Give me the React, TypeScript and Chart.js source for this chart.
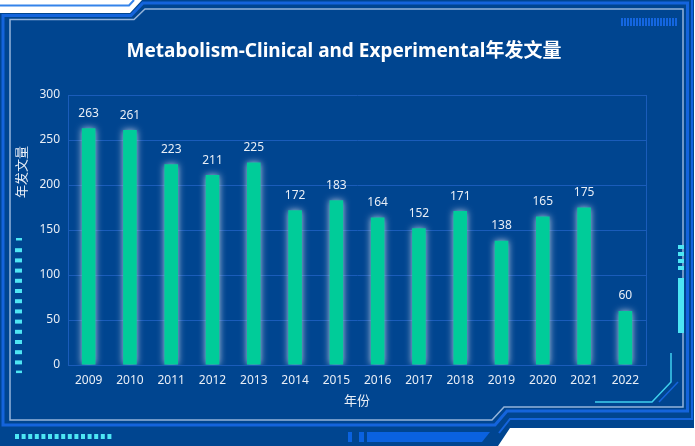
import React, { useEffect, useRef } from 'react';
import { Chart, registerables } from 'chart.js';

Chart.register(...registerables);

const years = ['2009', '2010', '2011', '2012', '2013', '2014', '2015', '2016', '2017', '2018', '2019', '2020', '2021', '2022'];
const counts = [263, 261, 223, 211, 225, 172, 183, 164, 152, 171, 138, 165, 175, 60];
const yMin = 0;
const yMax = 300;
const yStep = 50;
const titleText = 'Metabolism-Clinical and Experimental年发文量';
const xName = '年份';
const yName = '年发文量';

const FONT = '"Microsoft YaHei", "Noto Sans", "Noto Sans CJK SC", sans-serif';
const BG = '#004590';
const BRIGHT = '#1464dc';
const GRAYLINE = '#94b4da';
const CYAN = '#4de6f4';
const GRID = '#1a5cba';
const TEXT = '#e8eef6';
const BAR = '#00cc99';

const framePlugin = {
  id: 'frame',
  beforeDraw(chart: any) {
    const ctx = chart.ctx as CanvasRenderingContext2D;
    const W = chart.width;
    const H = chart.height;
    ctx.save();
    ctx.fillStyle = '#ffffff';
    ctx.fillRect(0, 0, W, H);
    ctx.fillStyle = BG;
    ctx.beginPath();
    ctx.moveTo(0, 13);
    ctx.lineTo(130, 13);
    ctx.lineTo(142, 0);
    ctx.lineTo(694, 0);
    ctx.lineTo(694, 428);
    ctx.lineTo(510, 428);
    ctx.lineTo(498, 446);
    ctx.lineTo(0, 446);
    ctx.closePath();
    ctx.fill();
    ctx.strokeStyle = '#3583ea';
    ctx.lineWidth = 2;
    ctx.beginPath();
    ctx.moveTo(0, 5.5);
    ctx.lineTo(129, 5.5);
    ctx.lineTo(134, 0);
    ctx.stroke();
    ctx.strokeStyle = BRIGHT;
    ctx.lineWidth = 3;
    ctx.beginPath();
    ctx.moveTo(3, 425);
    ctx.lineTo(3, 15.5);
    ctx.lineTo(131, 15.5);
    ctx.lineTo(143, 3);
    ctx.lineTo(687.5, 3);
    ctx.lineTo(687.5, 411);
    ctx.lineTo(507, 411);
    ctx.lineTo(495, 425);
    ctx.closePath();
    ctx.stroke();
    ctx.lineWidth = 2;
    ctx.beginPath();
    ctx.moveTo(692, 0);
    ctx.lineTo(692, 419);
    ctx.lineTo(510, 419);
    ctx.lineTo(499, 433);
    ctx.stroke();
    ctx.strokeStyle = GRAYLINE;
    ctx.lineWidth = 1.5;
    ctx.beginPath();
    ctx.moveTo(10, 420);
    ctx.lineTo(10, 19.5);
    ctx.lineTo(134, 19.5);
    ctx.lineTo(145, 9);
    ctx.lineTo(683, 9);
    ctx.lineTo(683, 407);
    ctx.lineTo(504, 407);
    ctx.lineTo(492, 420);
    ctx.closePath();
    ctx.stroke();
    ctx.fillStyle = '#0a62e0';
    ctx.fillRect(348, 432, 4, 10);
    ctx.fillRect(359, 432, 5, 10);
    ctx.beginPath();
    ctx.moveTo(367, 432);
    ctx.lineTo(490, 432);
    ctx.lineTo(482, 442);
    ctx.lineTo(367, 442);
    ctx.closePath();
    ctx.fill();
    ctx.fillStyle = '#1466e0';
    for (let x = 621; x < 677; x += 3) ctx.fillRect(x, 18, 2, 8);
    ctx.fillStyle = CYAN;
    for (let i = 0; i < 14; i++) {
      const y = 238 + i * 10.2;
      const short = i === 0 || i === 13;
      ctx.fillRect(short ? 16 : 15, y, short ? 6 : 7, short ? 2.5 : 4);
    }
    for (let i = 0; i < 15; i++) {
      ctx.fillRect(15 + i * 6.6, 434, 4, 5);
    }
    for (let i = 0; i < 4; i++) ctx.fillRect(678, 245 + i * 7, 6, 4);
    ctx.fillRect(678, 278, 6, 55);
    ctx.strokeStyle = '#3fd0ee';
    ctx.lineWidth = 1.5;
    ctx.beginPath();
    ctx.moveTo(671, 353);
    ctx.lineTo(671, 382);
    ctx.lineTo(652, 402);
    ctx.lineTo(595, 402);
    ctx.stroke();
    ctx.strokeStyle = '#1464dc';
    ctx.beginPath();
    ctx.moveTo(678, 382);
    ctx.lineTo(659, 402);
    ctx.stroke();
    ctx.restore();
  },
  beforeDatasetsDraw(chart: any) {
    const ctx = chart.ctx as CanvasRenderingContext2D;
    ctx.save();
    ctx.shadowColor = 'rgba(185,200,225,1)';
    ctx.shadowBlur = 7;
  },
  afterDatasetsDraw(chart: any) {
    const ctx = chart.ctx as CanvasRenderingContext2D;
    ctx.restore();
    ctx.save();
    ctx.fillStyle = TEXT;
    ctx.font = `12px ${FONT}`;
    ctx.textAlign = 'center';
    ctx.textBaseline = 'middle';
    const meta = chart.getDatasetMeta(0);
    meta.data.forEach((el: any, i: number) => {
      ctx.fillText(String(counts[i]), el.x, el.y - 15);
    });
    ctx.restore();
  },
  afterDraw(chart: any) {
    const ctx = chart.ctx as CanvasRenderingContext2D;
    const area = chart.chartArea;
    ctx.save();
    ctx.fillStyle = '#ffffff';
    ctx.font = `bold 19px ${FONT}`;
    ctx.textAlign = 'center';
    ctx.textBaseline = 'middle';
    ctx.fillText(titleText, 344, 52);
    ctx.fillStyle = TEXT;
    ctx.font = `13px ${FONT}`;
    ctx.fillText(xName, (area.left + area.right) / 2, area.bottom + 36);
    ctx.translate(22, 172);
    ctx.rotate(-Math.PI / 2);
    ctx.fillText(yName, 0, 0);
    ctx.restore();
  },
};

export default function App() {
  const ref = useRef<HTMLCanvasElement | null>(null);
  useEffect(() => {
    document.body.style.margin = '0';
    const canvas = ref.current;
    if (!canvas) return;
    const chart = new Chart(canvas, {
      type: 'bar',
      data: {
        labels: years,
        datasets: [
          {
            data: counts,
            backgroundColor: BAR,
            borderWidth: 0,
            barPercentage: 0.33,
            categoryPercentage: 1,
          },
        ],
      },
      options: {
        animation: false,
        responsive: false,
        devicePixelRatio: 1,
        layout: { padding: { top: 95, right: 49, bottom: 51, left: 0 } },
        plugins: { legend: { display: false }, tooltip: { enabled: false }, title: { display: false } },
        scales: {
          x: {
            offset: true,
            ticks: { color: TEXT, font: { size: 12, family: FONT }, padding: 8, maxRotation: 0 },
            grid: {
              display: true,
              offset: true,
              drawTicks: false,
              color: (c: any) => (c.type !== 'tick' || c.index === 0 ? GRID : 'rgba(0,0,0,0)'),
            },
            border: { color: GRID },
            afterFit: (s: any) => {
              s.height = 30;
            },
          },
          y: {
            min: yMin,
            max: yMax,
            ticks: { stepSize: yStep, color: TEXT, font: { size: 12, family: FONT }, padding: 8 },
            grid: { color: GRID, drawTicks: false },
            border: { color: GRID },
            afterFit: (s: any) => {
              s.width = 68;
            },
          },
        },
      },
      plugins: [framePlugin],
    });
    return () => chart.destroy();
  }, []);
  return <canvas ref={ref} width={695} height={446} style={{ display: 'block', width: 695, height: 446 }} />;
}
